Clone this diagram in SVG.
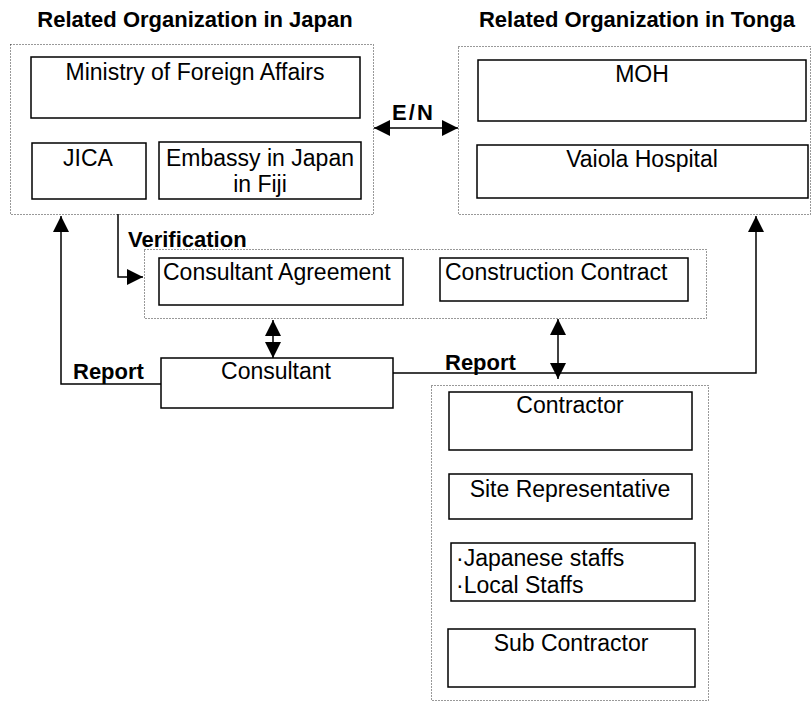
<svg xmlns="http://www.w3.org/2000/svg" width="812" height="702" viewBox="0 0 812 702">
<style>
text{font-family:"Liberation Sans",Arial,sans-serif;fill:#000}
.t{font-size:23px}
.b{font-size:22px;font-weight:bold}
.c{text-anchor:middle}
.box{fill:#fff;stroke:#000;stroke-width:1.5}
.grp{fill:none;stroke:#333;stroke-width:1;stroke-dasharray:1 2}
.ln{fill:none;stroke:#000;stroke-width:1.5}
</style>
<defs>
<marker id="ah" viewBox="0 0 16 16" refX="16" refY="8" markerWidth="16" markerHeight="16" markerUnits="userSpaceOnUse" orient="auto-start-reverse">
<path d="M0,0 L16,8 L0,16 Z" fill="#000"/>
</marker>
</defs>
<rect width="812" height="702" fill="#fff"/>

<g id="title-japan"><text class="b c" x="195" y="27">Related Organization in Japan</text></g>
<g id="title-tonga"><text class="b c" x="637" y="27">Related Organization in Tonga</text></g>

<g id="group-japan"><rect class="grp" x="10.5" y="44.5" width="363" height="170"/></g>
<g id="group-tonga"><rect class="grp" x="458.5" y="46.5" width="352" height="168"/></g>
<g id="group-contracts"><rect class="grp" x="144.5" y="249.5" width="562" height="69"/></g>
<g id="group-contractor"><rect class="grp" x="431.5" y="385.5" width="277" height="315"/></g>

<g id="mofa"><rect class="box" x="31" y="57" width="329" height="61"/><text class="t c" x="195" y="80">Ministry of Foreign Affairs</text></g>
<g id="jica"><rect class="box" x="32" y="143" width="114" height="56"/><text class="t c" x="88" y="166">JICA</text></g>
<g id="embassy"><rect class="box" x="159" y="142" width="202" height="57"/><text class="t c" x="260" y="166">Embassy in Japan</text><text class="t c" x="260" y="192">in Fiji</text></g>
<g id="moh"><rect class="box" x="478" y="60" width="328" height="61"/><text class="t c" x="642" y="82">MOH</text></g>
<g id="vaiola"><rect class="box" x="477" y="145" width="331" height="53"/><text class="t c" x="642" y="167">Vaiola Hospital</text></g>
<g id="consultant-agreement"><rect class="box" x="159" y="258" width="244" height="47"/><text class="t" x="163" y="280">Consultant Agreement</text></g>
<g id="construction-contract"><rect class="box" x="440" y="258" width="248" height="43"/><text class="t" x="445" y="280">Construction Contract</text></g>
<g id="consultant"><rect class="box" x="161" y="358" width="232" height="50"/><text class="t c" x="276" y="379">Consultant</text></g>
<g id="contractor"><rect class="box" x="449" y="392" width="243" height="58"/><text class="t c" x="570" y="413">Contractor</text></g>
<g id="site-rep"><rect class="box" x="449" y="474" width="243" height="45"/><text class="t c" x="570" y="497">Site Representative</text></g>
<g id="staffs"><rect class="box" x="451" y="543" width="244" height="58"/><text class="t" x="456" y="566">·Japanese staffs</text><text class="t" x="456" y="593">·Local Staffs</text></g>
<g id="sub-contractor"><rect class="box" x="448" y="629" width="247" height="58"/><text class="t c" x="571" y="651">Sub Contractor</text></g>

<g id="connectors">
<line class="ln" x1="374" y1="128" x2="458" y2="128" marker-start="url(#ah)" marker-end="url(#ah)"/>
<polyline class="ln" points="118,214 118,277 143,277" marker-end="url(#ah)"/>
<line class="ln" x1="273" y1="320" x2="273" y2="358" marker-start="url(#ah)" marker-end="url(#ah)"/>
<line class="ln" x1="558" y1="319" x2="558" y2="379" marker-start="url(#ah)" marker-end="url(#ah)"/>
<polyline class="ln" points="161,384 61,384 61,216" marker-end="url(#ah)"/>
<polyline class="ln" points="393,373 756,373 756,216" marker-end="url(#ah)"/>
<text class="b" x="392" y="120" textLength="41">E/N</text>
<text class="b" x="128" y="247">Verification</text>
<text class="b" x="73" y="379">Report</text>
<text class="b" x="445" y="370">Report</text>
</g>
</svg>
